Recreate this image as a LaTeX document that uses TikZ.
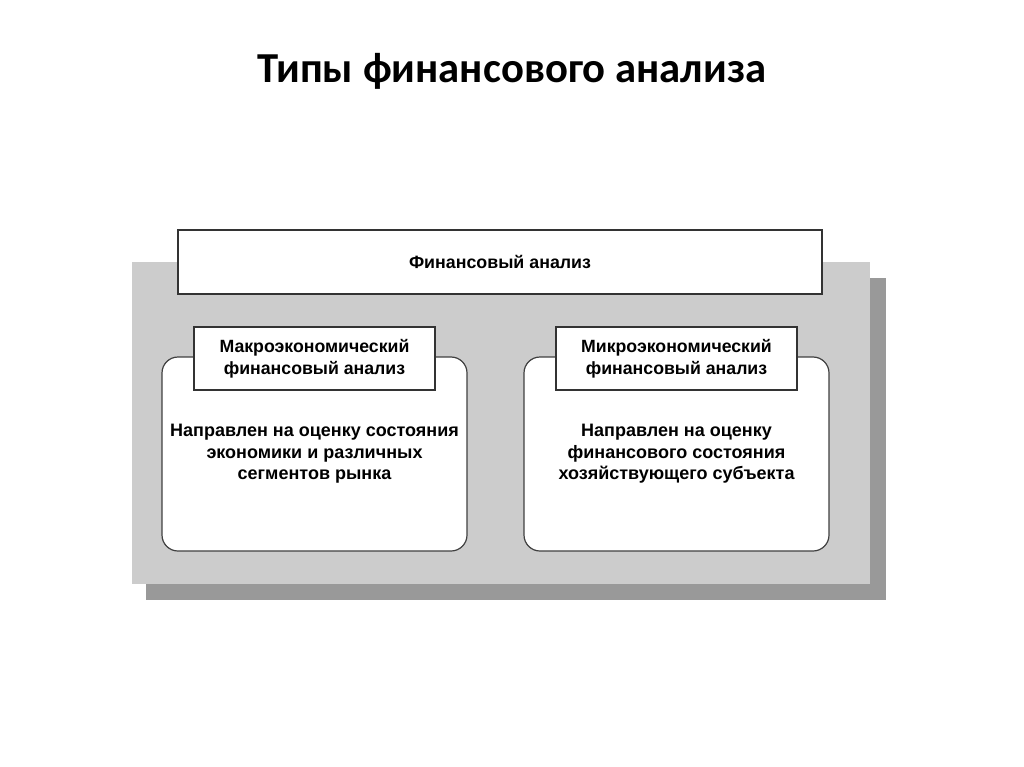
\documentclass[tikz,border=0pt]{standalone}
\usepackage{fontspec}
\setmainfont{Liberation Sans}
\newfontfamily\titlefont{Carlito}
\usetikzlibrary{positioning}

\tikzset{
  topbox/.style={draw=black!80, line width=1.2pt, fill=white, minimum width=644pt, minimum height=64pt, inner sep=0pt, font=\bfseries\fontsize{17.8}{21}\selectfont},
  panel/.style={draw=black!75, line width=1.2pt, fill=white, rounded corners=16pt, minimum width=305pt, minimum height=194pt, inner sep=0pt, align=center, font=\bfseries\fontsize{18}{21.5}\selectfont},
  tagbox/.style={draw=black!80, line width=1.2pt, fill=white, minimum width=241pt, minimum height=63pt, inner sep=0pt, align=center, font=\bfseries\fontsize{17.7}{22}\selectfont}
}

\begin{document}
\begin{tikzpicture}[x=1pt, y=-1pt]
\useasboundingbox[fill=white] (0,0) rectangle (1024,767);
\node[font=\titlefont\bfseries\fontsize{42.7}{48}\selectfont] (title) at (512,71) {Типы финансового анализа};
% backing
\fill[black!40] (146,278) rectangle (886,600);
\fill[black!20] (132,262) rectangle (870,584);
\node[topbox] (fin) at (500,262) {Финансовый анализ};
\node[panel] (macro) at (314.5,454) {Направлен на оценку состояния\\экономики и различных\\сегментов рынка};
\node[panel] (micro) at (676.5,454) {Направлен на оценку\\финансового состояния\\хозяйствующего субъекта};
\node[tagbox] (macrotag) at (314.5,358.5) {Макроэкономический\\финансовый анализ};
\node[tagbox] (microtag) at (676.5,358.5) {Микроэкономический\\финансовый анализ};
\end{tikzpicture}
\end{document}
